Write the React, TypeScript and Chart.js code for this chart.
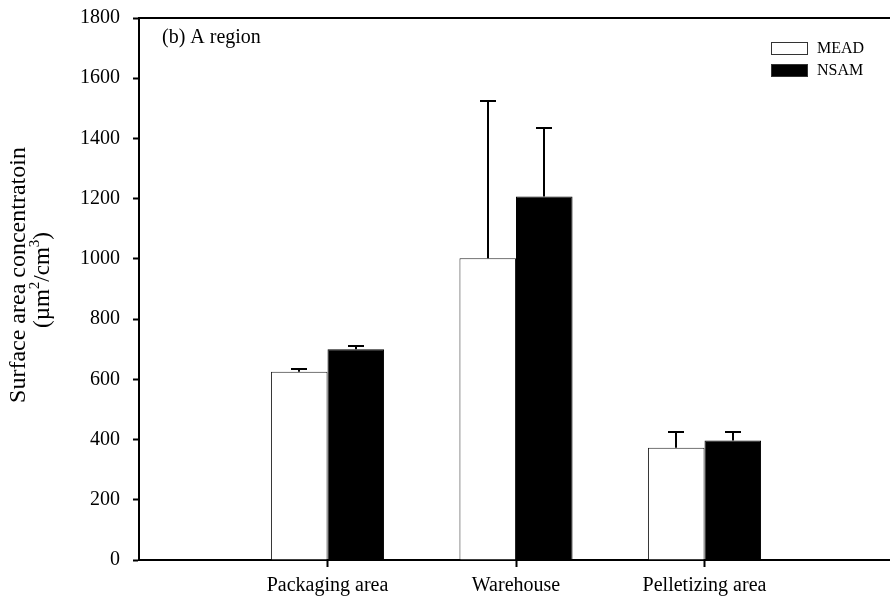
import React, { useEffect, useRef } from "react";
import { Chart, registerables } from "chart.js";

Chart.register(...registerables);

const categories = ["", "Packaging area", "Warehouse", "Pelletizing area", ""];
const meadValues = [null, 625, 1002, 373, null];
const meadErrors = [null, 8, 523, 51, null];
const nsamValues = [null, 700, 1207, 397, null];
const nsamErrors = [null, 11, 227, 27, null];
const yTicks = [0, 200, 400, 600, 800, 1000, 1200, 1400, 1600, 1800];
const panelLabel = "(b) A region";
const yTitleLine1 = "Surface area concentratoin";
const yTitleLine2 = [
  { t: "(\u00b5m", sup: false },
  { t: "2", sup: true },
  { t: "/cm", sup: false },
  { t: "3", sup: true },
  { t: ")", sup: false },
];

const FONT = "'Liberation Serif', 'Times New Roman', serif";

const errorBarPlugin = {
  id: "errorBars",
  afterDatasetsDraw(chart: any) {
    const ctx = chart.ctx;
    const yScale = chart.scales.y;
    const errs = [meadErrors, nsamErrors];
    const vals = [meadValues, nsamValues];
    ctx.save();
    ctx.strokeStyle = "#000";
    ctx.lineWidth = 2;
    chart.data.datasets.forEach((ds: any, di: number) => {
      const meta = chart.getDatasetMeta(di);
      meta.data.forEach((bar: any, i: number) => {
        const v = vals[di][i];
        const e = errs[di][i];
        if (v == null || e == null) return;
        const x = Math.round(bar.x);
        const yTop = Math.round(yScale.getPixelForValue(v + e));
        const yBase = bar.y;
        ctx.beginPath();
        ctx.moveTo(x, yBase);
        ctx.lineTo(x, yTop);
        ctx.moveTo(x - 8, yTop);
        ctx.lineTo(x + 8, yTop);
        ctx.stroke();
      });
    });
    ctx.restore();
  },
};

const decorPlugin = {
  id: "decor",
  afterDraw(chart: any) {
    const ctx = chart.ctx;
    const a = chart.chartArea;
    ctx.save();
    // top frame line
    ctx.strokeStyle = "#000";
    ctx.lineWidth = 2;
    ctx.beginPath();
    ctx.moveTo(a.left - 1, a.top);
    ctx.lineTo(chart.width, a.top);
    ctx.stroke();
    // panel label
    ctx.fillStyle = "#000";
    ctx.font = `20px ${FONT}`;
    ctx.textBaseline = "middle";
    ctx.textAlign = "left";
    ctx.fillText(panelLabel, 162, 38);
    // legend
    const items = [
      { label: chart.data.datasets[0].label, fill: "#fff" },
      { label: chart.data.datasets[1].label, fill: "#000" },
    ];
    ctx.font = `16px ${FONT}`;
    items.forEach((it, k) => {
      const y = 42 + k * 22;
      ctx.fillStyle = it.fill;
      ctx.fillRect(771, y, 37, 13);
      ctx.strokeStyle = "#333";
      ctx.lineWidth = 1;
      ctx.strokeRect(771.5, y + 0.5, 36, 12);
      ctx.fillStyle = "#000";
      ctx.fillText(it.label, 817, y + 7);
    });
    // y-axis title (rotated)
    ctx.save();
    ctx.translate(19, 275);
    ctx.rotate(-Math.PI / 2);
    ctx.textAlign = "center";
    ctx.textBaseline = "middle";
    ctx.font = `24px ${FONT}`;
    ctx.fillText(yTitleLine1, 0, 0);
    ctx.restore();
    ctx.save();
    ctx.translate(43, 280);
    ctx.rotate(-Math.PI / 2);
    ctx.textBaseline = "middle";
    ctx.textAlign = "left";
    const big = `23px ${FONT}`;
    const small = `15px ${FONT}`;
    let total = 0;
    yTitleLine2.forEach((p) => {
      ctx.font = p.sup ? small : big;
      total += ctx.measureText(p.t).width;
    });
    let xx = -total / 2;
    yTitleLine2.forEach((p) => {
      ctx.font = p.sup ? small : big;
      ctx.fillText(p.t, xx, p.sup ? -8 : 0);
      xx += ctx.measureText(p.t).width;
    });
    ctx.restore();
    ctx.restore();
  },
};

export default function App() {
  const ref = useRef<HTMLCanvasElement>(null);
  useEffect(() => {
    const canvas = ref.current!;
    const chart = new Chart(canvas, {
      type: "bar",
      data: {
        labels: categories,
        datasets: [
          {
            label: "MEAD",
            data: meadValues as any,
            backgroundColor: "#fff",
            borderColor: "#222",
            borderWidth: 1,
          },
          {
            label: "NSAM",
            data: nsamValues as any,
            backgroundColor: "#000",
            borderColor: "#000",
            borderWidth: 1,
          },
        ],
      },
      options: {
        responsive: false,
        animation: false,
        devicePixelRatio: 1,
        layout: { padding: { top: 18, right: 0, left: 0, bottom: 0 } },
        datasets: {
          bar: { categoryPercentage: 0.6, barPercentage: 1.0, grouped: true },
        },
        plugins: {
          legend: { display: false },
          tooltip: { enabled: false },
          title: { display: false },
        },
        scales: {
          x: {
            type: "category",
            offset: false,
            grid: {
              offset: false,
              drawOnChartArea: false,
              drawTicks: true,
              tickLength: 7,
              tickWidth: 2,
              color: (c: any) =>
                c.index === 0 || c.index === categories.length - 1 ? "rgba(0,0,0,0)" : "#000",
            },
            border: { display: true, color: "#000", width: 2 },
            ticks: {
              color: "#000",
              font: { family: FONT, size: 20 },
              padding: 7,
              maxRotation: 0,
              autoSkip: false,
            },
            afterFit: (s: any) => {
              s.height = 46;
              s.paddingLeft = 0;
              s.paddingRight = 0;
            },
          },
          y: {
            min: 0,
            max: 1800,
            afterBuildTicks: (s: any) => {
              s.ticks = yTicks.map((v) => ({ value: v }));
            },
            grid: {
              drawOnChartArea: false,
              drawTicks: true,
              tickLength: 6,
              tickWidth: 2,
              color: "#000",
            },
            border: { display: true, color: "#000", width: 2 },
            ticks: {
              color: "#000",
              font: { family: FONT, size: 20 },
              padding: 13,
              callback: (v: any) => String(v),
            },
            afterFit: (s: any) => {
              s.width = 139;
              s.paddingTop = 0;
              s.paddingBottom = 0;
            },
          },
        },
      },
      plugins: [errorBarPlugin, decorPlugin],
    });
    return () => chart.destroy();
  }, []);
  return (
    <div
      style={{
        position: "absolute",
        left: 0,
        top: 0,
        width: 890,
        height: 606,
        overflow: "hidden",
        background: "#fff",
      }}
    >
      <canvas ref={ref} width={893} height={606} style={{ display: "block" }} />
    </div>
  );
}
